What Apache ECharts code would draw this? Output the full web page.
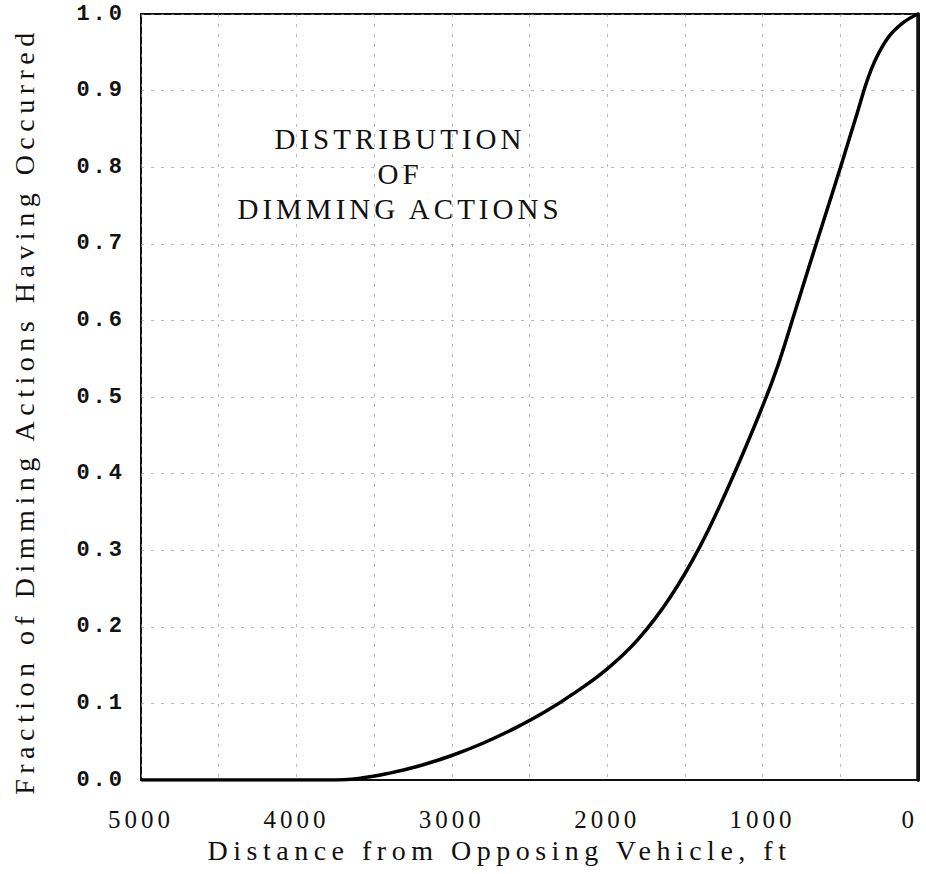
<!DOCTYPE html>
<html>
<head>
<meta charset="utf-8">
<script src="https://cdn.jsdelivr.net/npm/echarts@6/dist/echarts.min.js"></script>
<style>
  html, body { margin: 0; padding: 0; background: #fff; }
  #main { width: 926px; height: 874px; }
</style>
</head>
<body>
<div id="main"></div>
<script>
// Distance from opposing vehicle (ft)
const distance = [0, 100, 200, 300, 400, 500, 600, 700, 800, 900, 1000, 1200, 1400, 1600, 1800, 2000, 2200, 2400, 2600, 2800, 3000, 3200, 3400, 3600, 3800, 5000];
// Fraction of dimming actions having occurred
const fraction = [1.0, 0.988, 0.967, 0.928, 0.865, 0.799, 0.735, 0.671, 0.606, 0.542, 0.488, 0.392, 0.306, 0.237, 0.184, 0.145, 0.115, 0.089, 0.067, 0.048, 0.032, 0.019, 0.009, 0.002, 0, 0];
const xTicks = [0, 1000, 2000, 3000, 4000, 5000];
const titleLines = ['DISTRIBUTION', 'OF', 'DIMMING ACTIONS'];
const xName = 'Distance from Opposing Vehicle, ft';
const yName = 'Fraction of Dimming Actions Having Occurred';

const chart = echarts.init(document.getElementById('main'), null, { renderer: 'svg' });
const serif = '"Liberation Serif", "DejaVu Serif", serif';
const gridLine = { show: true, lineStyle: { color: '#8a8a8a', width: 1, type: [3, 7], opacity: 0.6 } };

chart.setOption({
  animation: false,
  backgroundColor: '#fff',
  grid: { left: 141, right: 8, top: 14, bottom: 94, show: true, borderColor: '#111', borderWidth: 2 },
  xAxis: {
    type: 'value', inverse: true, min: 0, max: 5000, interval: 500,
    name: xName, nameLocation: 'middle', nameGap: 54,
    nameTextStyle: { fontFamily: serif, fontSize: 28, color: '#111', padding: [0, 60, 0, 0] },
    axisLine: { show: true, lineStyle: { color: '#111', width: 2 } },
    axisTick: { show: false },
    axisLabel: {
      margin: 27, fontFamily: serif, fontSize: 25, color: '#111',
      alignMinLabel: 'right',
      formatter: v => (xTicks.indexOf(v) >= 0 ? String(v) : '')
    },
    splitLine: gridLine
  },
  yAxis: [{
    type: 'value', min: 0, max: 1, interval: 0.1,
    name: yName, nameLocation: 'middle', nameGap: 103,
    nameTextStyle: { fontFamily: serif, fontSize: 28, color: '#111', padding: [0, 28, 0, 0] },
    axisLine: { show: true, lineStyle: { color: '#111', width: 3 } },
    axisTick: { show: false },
    axisLabel: { margin: 16, fontFamily: '"Liberation Mono", "DejaVu Sans Mono", monospace', fontSize: 22, fontWeight: 'bold', color: '#111',
      formatter: v => v.toFixed(1) },
    splitLine: gridLine
  }, {
    type: 'value', min: 0, max: 1, interval: 0.1, position: 'right',
    axisLine: { show: true, lineStyle: { color: '#111', width: 3.5 } },
    axisTick: { show: false }, axisLabel: { show: false }, splitLine: { show: false }
  }],
  graphic: [{
    type: 'text', x: 400, y: 121,
    style: { text: titleLines.join('\n'), font: '29px ' + serif, fill: '#111', align: 'center', verticalAlign: 'top', lineHeight: 35 }
  }],
  series: [{
    type: 'line',
    data: distance.map((d, i) => [d, fraction[i]]),
    smooth: 0.4, symbol: 'none',
    lineStyle: { color: '#000', width: 3.5 }
  }]
});

function spacing() {
  document.querySelectorAll('#main text').forEach(t => {
    const s = t.textContent;
    let ls = '0px';
    if (/^\d\.\d$/.test(s)) ls = '3px';
    else if (/^\d+$/.test(s)) ls = '4px';
    else if (titleLines.indexOf(s) >= 0) ls = '4px';
    else if (s === xName || s === yName) ls = '5.5px';
    t.style.letterSpacing = ls;
  });
}
chart.on('finished', spacing);
spacing();
</script>
</body>
</html>
